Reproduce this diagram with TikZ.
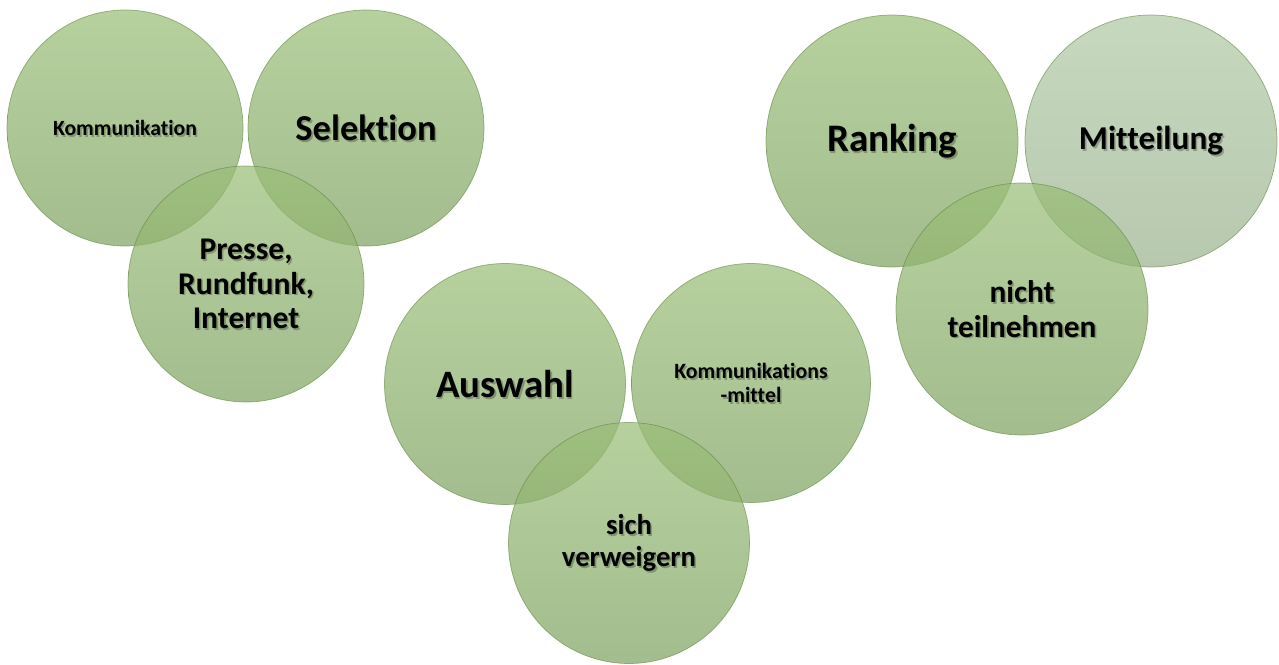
\documentclass[tikz,border=0pt]{standalone}
\usepackage{fontspec}
\setmainfont{Carlito}[Ligatures=NoCommon]
\usetikzlibrary{positioning}

\definecolor{ringtop}{RGB}{154,190,120}
\definecolor{ringbot}{RGB}{128,163,98}
\definecolor{paletop}{RGB}{176,201,165}
\definecolor{palebot}{RGB}{155,179,144}
\definecolor{ringline}{RGB}{96,132,64}

% bold label size with a 1.1 line spacing
\newcommand{\labelsize}[1]{\bfseries\fontsize{#1}{\fpeval{1.1*#1}}\selectfont}

\tikzset{
  ring/.style={circle, inner sep=0pt, minimum size=#1, draw=ringline,
    line width=0.7pt, draw opacity=0.6, shading=axis,
    top color=ringtop, bottom color=ringbot, fill opacity=0.72},
  palering/.style={ring=#1, top color=paletop, bottom color=palebot},
  label/.style={font=\labelsize{#1}, align=center, inner sep=0pt, text=black},
  labelshadow/.style={label=#1, text=black, text opacity=0.25}
}

% one label with its soft offset shadow
\newcommand{\venntext}[4]{%
  \node[labelshadow=#3] (#1-sh) at ([shift={(1.6,1.8)}]#2) {#4};
  \node[label=#3] (#1) at (#2) {#4};
}

\begin{document}
\begin{tikzpicture}[x=1pt, y=-1pt]
\useasboundingbox (0,0) rectangle (1279,664);

% first group
\node[ring=236pt] (komm)   at (125,128) {};
\node[ring=236pt] (selekt) at (366,128) {};
\node[ring=236pt] (presse) at (246,284) {};

% second group
\node[ring=241pt] (auswahl) at (505,384) {};
\node[ring=239pt] (mittel)  at (751,383) {};
\node[ring=241pt] (verw)    at (629,543) {};

% third group
\node[ring=252pt]     (ranking) at (892,141) {};
\node[palering=252pt] (mitteil) at (1151,141) {};
\node[ring=252pt]     (nicht)   at (1022,309) {};

% labels
\venntext{t-komm}{komm.center}{21.7}{Kommunikation}
\venntext{t-selekt}{selekt.center}{36.5}{Selektion}
\venntext{t-presse}{presse.center}{31.6}{Presse,\\Rundfunk,\\Internet}
\venntext{t-auswahl}{auswahl.center}{38.8}{Auswahl}
\venntext{t-mittel}{mittel.center}{21.8}{Kommunikations\\-mittel}
\venntext{t-verw}{verw.center}{28.7}{sich\\verweigern}
\venntext{t-ranking}{ranking.center}{39}{Ranking}
\venntext{t-mitteil}{mitteil.center}{33.3}{Mitteilung}
\venntext{t-nicht}{nicht.center}{31.3}{nicht\\teilnehmen}
\end{tikzpicture}
\end{document}
